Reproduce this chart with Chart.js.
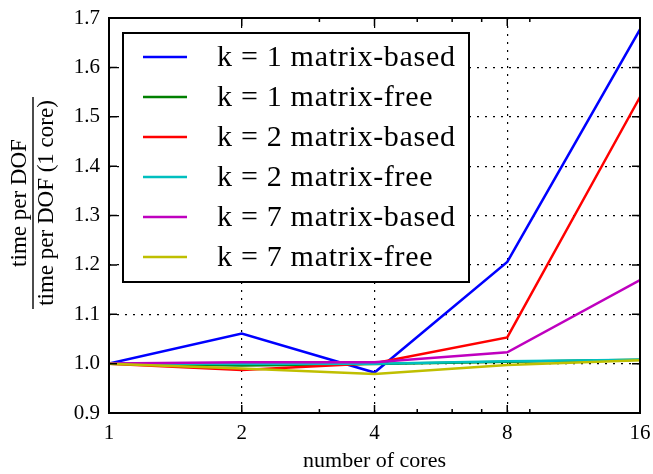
<!DOCTYPE html>
<html>
<head>
<meta charset="utf-8">
<script src="https://cdn.jsdelivr.net/npm/chart.js@4.4.1/dist/chart.umd.min.js"></script>
<style>
  html, body { margin: 0; padding: 0; background: #fff; }
  #wrap { width: 653px; height: 474px; }
</style>
</head>
<body>
<div id="wrap"><canvas id="myChart" width="653" height="474"></canvas></div>
<script>
const cores = [1, 2, 4, 8, 16];
const minorCores = [3, 5, 6, 7, 9];
const k1Based = [1.0, 1.061, 0.982, 1.206, 1.677];
const k1Free = [1.0, 0.996, 0.999, 1.004, 1.008];
const k2Based = [1.0, 0.987, 1.001, 1.053, 1.54];
const k2Free = [1.0, 0.999, 1.0, 1.005, 1.008];
const k7Based = [1.0, 1.003, 1.003, 1.023, 1.169];
const k7Free = [1.0, 0.99, 0.979, 0.997, 1.007];

const seriesLabels = [
  "k = 1 matrix-based",
  "k = 1 matrix-free",
  "k = 2 matrix-based",
  "k = 2 matrix-free",
  "k = 7 matrix-based",
  "k = 7 matrix-free",
];
const seriesValues = [k1Based, k1Free, k2Based, k2Free, k7Based, k7Free];
const seriesColors = ["#0000ff", "#008000", "#ff0000", "#00bfbf", "#bf00bf", "#bfbf00"];

const serif = "'Liberation Serif', 'DejaVu Serif', serif";

const datasets = seriesValues.map((vals, i) => ({
  label: seriesLabels[i],
  data: cores.map((c, j) => ({ x: c, y: vals[j] })),
  borderColor: seriesColors[i],
  backgroundColor: seriesColors[i],
  borderWidth: 2.5,
  pointRadius: 0,
  tension: 0,
  order: seriesValues.length - i,
}));

// ticks pointing inward on all four sides, plus the frame
const framePlugin = {
  id: "frame",
  afterDraw(chart) {
    const ctx = chart.ctx;
    const a = chart.chartArea;
    const xs = chart.scales.x, ys = chart.scales.y;
    ctx.save();
    ctx.strokeStyle = "#000";
    ctx.lineWidth = 1.5;
    ctx.beginPath();
    cores.forEach((c) => {
      const px = xs.getPixelForValue(c);
      ctx.moveTo(px, a.bottom); ctx.lineTo(px, a.bottom - 8);
      ctx.moveTo(px, a.top); ctx.lineTo(px, a.top + 8);
    });
    minorCores.forEach((c) => {
      const px = xs.getPixelForValue(c);
      ctx.moveTo(px, a.bottom); ctx.lineTo(px, a.bottom - 4);
      ctx.moveTo(px, a.top); ctx.lineTo(px, a.top + 4);
    });
    ys.ticks.forEach((t) => {
      const py = ys.getPixelForValue(t.value);
      ctx.moveTo(a.left, py); ctx.lineTo(a.left + 8, py);
      ctx.moveTo(a.right, py); ctx.lineTo(a.right - 8, py);
    });
    ctx.stroke();
    ctx.lineWidth = 2;
    ctx.strokeRect(a.left, a.top, a.right - a.left, a.bottom - a.top);
    ctx.restore();
  },
};

// legend box inside the upper left of the axes
const legendPlugin = {
  id: "innerLegend",
  afterDraw(chart) {
    const ctx = chart.ctx;
    const a = chart.chartArea;
    const x0 = a.left + 14, y0 = a.top + 15;
    const w = 346, rowH = 40;
    const h = rowH * chart.data.datasets.length + 9;
    ctx.save();
    ctx.fillStyle = "#fff";
    ctx.fillRect(x0, y0, w, h);
    ctx.strokeStyle = "#000";
    ctx.lineWidth = 2;
    ctx.strokeRect(x0, y0, w, h);
    ctx.font = "30px " + serif;
    ctx.letterSpacing = "0.7px";
    ctx.textBaseline = "middle";
    ctx.textAlign = "left";
    chart.data.datasets.forEach((ds, i) => {
      const cy = y0 + 24 + i * rowH;
      ctx.strokeStyle = ds.borderColor;
      ctx.lineWidth = 2.5;
      ctx.beginPath();
      ctx.moveTo(x0 + 20, cy);
      ctx.lineTo(x0 + 64, cy);
      ctx.stroke();
      ctx.fillStyle = "#000";
      ctx.fillText(ds.label, x0 + 94, cy + 1);
    });
    ctx.restore();
  },
};

// y label written as a fraction
const yTitlePlugin = {
  id: "yFraction",
  afterDraw(chart) {
    const ctx = chart.ctx;
    ctx.save();
    ctx.translate(33, 203);
    ctx.rotate(-Math.PI / 2);
    ctx.fillStyle = "#000";
    ctx.font = "23px " + serif;
    ctx.textAlign = "center";
    ctx.textBaseline = "middle";
    ctx.fillText("time per DOF", 0, -13);
    ctx.fillText("time per DOF (1 core)", 0, 14);
    ctx.fillRect(-106, -0.7, 212, 1.4);
    ctx.restore();
  },
};

new Chart(document.getElementById("myChart"), {
  type: "line",
  data: { datasets: datasets },
  options: {
    responsive: false,
    animation: false,
    events: [],
    layout: { padding: { left: 0, right: 13, top: 18, bottom: 0 } },
    plugins: {
      legend: { display: false },
      tooltip: { enabled: false },
    },
    scales: {
      x: {
        type: "logarithmic",
        min: 1,
        max: 16,
        afterBuildTicks: (scale) => {
          scale.ticks = cores.map((v) => ({ value: v }));
        },
        afterFit: (scale) => {
          scale.height = 61;
          scale.paddingLeft = 0;
          scale.paddingRight = 0;
        },
        ticks: {
          autoSkip: false,
          maxRotation: 0,
          padding: 8,
          color: "#000",
          font: { family: serif, size: 21 },
          callback: (v) => String(v),
        },
        grid: { color: "#000", lineWidth: 1.2, drawTicks: false },
        border: { display: false, dash: [2, 6] },
        title: {
          display: true,
          text: "number of cores",
          color: "#000",
          font: { family: serif, size: 22 },
          padding: 0,
        },
      },
      y: {
        type: "linear",
        min: 0.9,
        max: 1.7,
        afterFit: (scale) => {
          scale.width = 109;
          scale.paddingTop = 0;
          scale.paddingBottom = 0;
        },
        ticks: {
          stepSize: 0.1,
          padding: 9,
          color: "#000",
          font: { family: serif, size: 21 },
          callback: (v) => Number(v).toFixed(1),
        },
        grid: { color: "#000", lineWidth: 1.2, drawTicks: false },
        border: { display: false, dash: [2, 6] },
      },
    },
  },
  plugins: [framePlugin, legendPlugin, yTitlePlugin],
});
</script>
</body>
</html>
